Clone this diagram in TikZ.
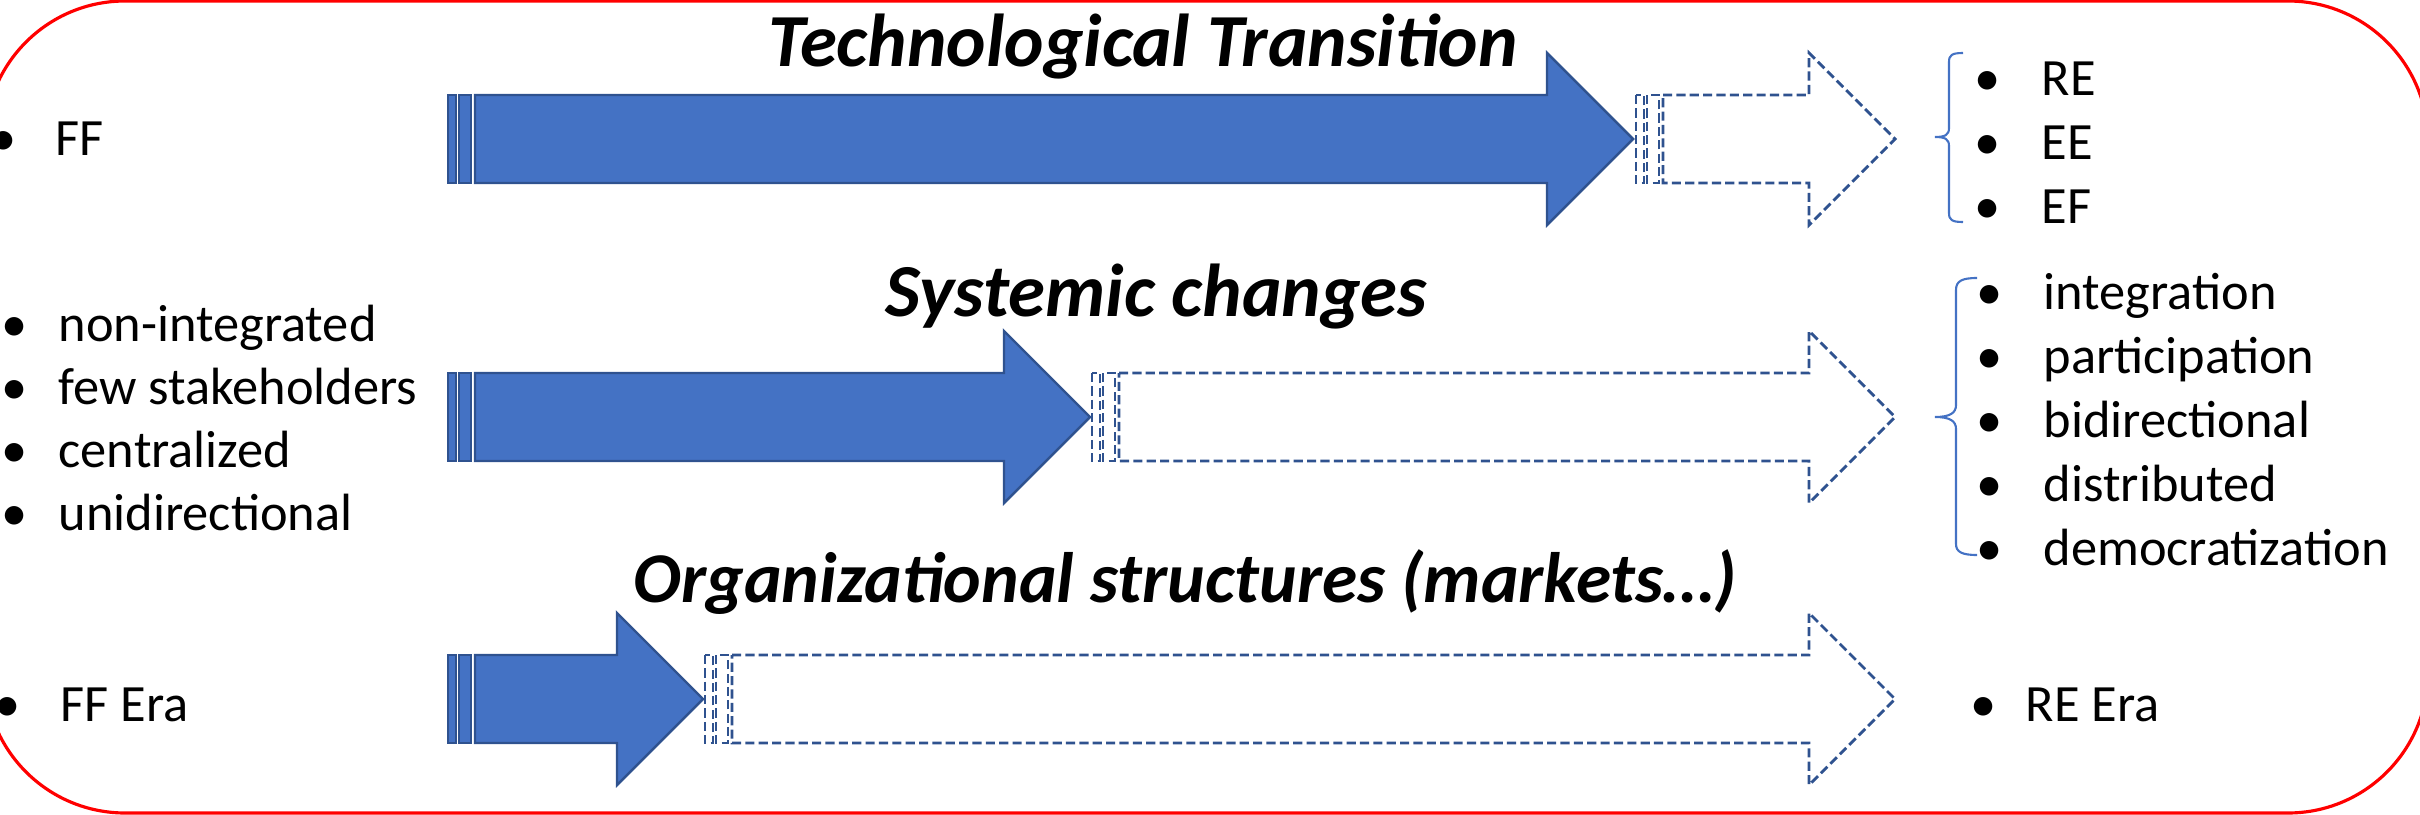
\documentclass[tikz,border=0pt]{standalone}
\usepackage{fontspec}
\setmainfont{Carlito}

\definecolor{arrowblue}{HTML}{4472C4}
\definecolor{arrowedge}{HTML}{2F528F}

% bullet hung to the left of the item text
\newcommand{\itm}[2][0.67cm]{\llap{\makebox[#1][l]{\textbullet}}#2}

% striped arrow: style, tail x, tip x, centre y
\newcommand{\striped}[4]{%
  \draw[#1] (#2,#4-44) rectangle (#2+8,#4+44);
  \draw[#1] (#2+11,#4-44) rectangle (#2+23,#4+44);
  \draw[#1] (#2+27,#4-44) -- (#3-86,#4-44) -- (#3-86,#4-86) -- (#3,#4)
    -- (#3-86,#4+86) -- (#3-86,#4+44) -- (#2+27,#4+44) -- cycle;
}

\begin{document}
\begin{tikzpicture}[
    x=0.01cm, y=-0.01cm,
    solid arrow/.style={draw=arrowedge,fill=arrowblue,line width=0.7pt},
    open arrow/.style={draw=arrowedge,line width=0.8pt,dash pattern=on 2.6pt off 1.2pt},
    title/.style={font=\fontsize{21.3}{25}\selectfont\bfseries\itshape,anchor=base west,inner sep=0pt},
    list/.style={font=\fontsize{14.9}{18.14}\selectfont,anchor=base west,inner sep=0pt},
    curly/.style={draw=arrowblue,line width=0.6pt},
    frame/.style={draw=red,line width=0.9pt,rounded corners=1.4cm},
    ]
    \useasboundingbox (0,0) rectangle (2420,815);
    \draw[frame] (-15,1) rectangle (2428,813);

    % technological transition
    \striped{solid arrow}{448}{1633}{139}
    \striped{open arrow}{1636}{1895}{139}
    \node[title] (tech-title) at (768,66) {Technological Transition};
    \node[list] (tech-from) at (55,156) {\itm[0.65cm]{FF}};
    \foreach \txt [count=\i from 0] in {RE,EE,EF}
      \node[list] (tech-to-\i) at (2041,95+64*\i) {\itm{\txt}};
    \draw[curly] (1963,53) .. controls (1952,53) and (1949,55) .. (1949,62)
      -- (1949,128) .. controls (1949,135) and (1945,137) .. (1935,137)
      .. controls (1945,137) and (1949,139) .. (1949,146)
      -- (1949,213) .. controls (1949,220) and (1952,222) .. (1963,222);

    % systemic changes
    \striped{solid arrow}{448}{1090}{417}
    \striped{open arrow}{1092}{1895}{417}
    \node[title] (sys-title) at (885,316) {Systemic changes};
    \foreach \txt [count=\i from 0] in {non-integrated,few stakeholders,centralized,unidirectional}
      \node[list] (sys-from-\i) at (58,341+63*\i) {\itm[0.57cm]{\txt}};
    \foreach \txt [count=\i from 0] in {integration,participation,bidirectional,distributed,democratization}
      \node[list] (sys-to-\i) at (2043,309+64*\i) {\itm{\txt}};
    \draw[curly] (1977,278) .. controls (1962,278) and (1956,281) .. (1956,290)
      -- (1956,405) .. controls (1956,413) and (1950,417) .. (1935,417)
      .. controls (1950,417) and (1956,421) .. (1956,429)
      -- (1956,544) .. controls (1956,552) and (1962,555) .. (1977,555);

    % organizational structures
    \striped{solid arrow}{448}{703}{699}
    \striped{open arrow}{705}{1895}{699}
    \node[title,font=\fontsize{20.3}{25}\selectfont\bfseries\itshape] (org-title) at (633,602)
      {Organizational structures (markets…)};
    \node[list] (org-from) at (60,721) {\itm[0.66cm]{FF Era}};
    \node[list] (org-to) at (2025,721) {\itm[0.55cm]{RE Era}};
\end{tikzpicture}
\end{document}
